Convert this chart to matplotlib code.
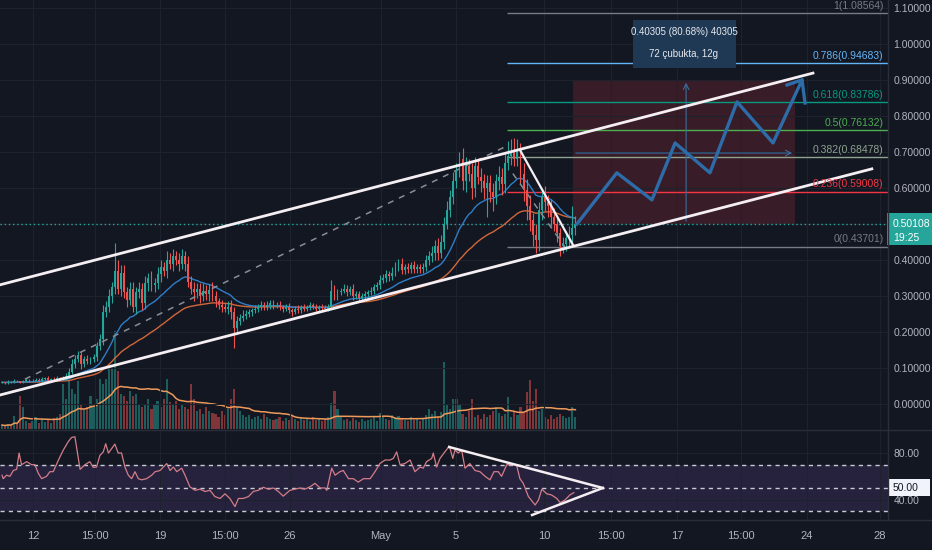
import numpy as np
import pandas as pd
import matplotlib
matplotlib.use("Agg")
import matplotlib.pyplot as plt
from matplotlib.patches import Rectangle
from matplotlib.lines import Line2D
from matplotlib.transforms import blended_transform_factory

plt.rcParams["font.family"] = ["Liberation Sans", "DejaVu Sans"]

BG = "#131722"
GRID = "#1e222d"
SEP = "#2a2e39"
TXT = "#b2b5be"
UP = "#26a69a"
DOWN = "#ef5350"

# ---- 4h candles (close) ----
close = [
    0.060, 0.058, 0.062, 0.060, 0.065, 0.063, 0.061, 0.064, 0.066, 0.063,
    0.065, 0.068, 0.064, 0.070, 0.072, 0.068, 0.070, 0.069, 0.072, 0.070,
    0.072, 0.078, 0.090, 0.110, 0.125, 0.135, 0.110, 0.125, 0.120, 0.125,
    0.130, 0.160, 0.180, 0.255, 0.270, 0.300, 0.325, 0.370, 0.320, 0.365,
    0.310, 0.290, 0.320, 0.270, 0.310, 0.320, 0.280, 0.335, 0.350, 0.330,
    0.335, 0.360, 0.380, 0.370, 0.400, 0.390, 0.410, 0.400, 0.390, 0.410,
    0.390, 0.340, 0.320, 0.310, 0.320, 0.300, 0.315, 0.305, 0.318, 0.300,
    0.285, 0.275, 0.270, 0.265, 0.270, 0.255, 0.210, 0.230, 0.240, 0.245,
    0.250, 0.255, 0.260, 0.265, 0.270, 0.275, 0.270, 0.275, 0.280, 0.272,
    0.275, 0.270, 0.265, 0.270, 0.260, 0.255, 0.265, 0.260, 0.270, 0.265,
    0.270, 0.275, 0.270, 0.265, 0.270, 0.268, 0.265, 0.270, 0.315, 0.300,
    0.310, 0.315, 0.320, 0.310, 0.320, 0.300, 0.305, 0.295, 0.300, 0.305,
    0.310, 0.315, 0.325, 0.330, 0.345, 0.350, 0.360, 0.355, 0.365, 0.380,
    0.390, 0.372, 0.380, 0.375, 0.385, 0.375, 0.380, 0.375, 0.380, 0.400,
    0.410, 0.420, 0.440, 0.420, 0.450, 0.500, 0.540, 0.575, 0.620, 0.650,
    0.680, 0.620, 0.660, 0.640, 0.600, 0.660, 0.630, 0.620, 0.600, 0.615,
    0.590, 0.575, 0.620, 0.630, 0.610, 0.670, 0.690, 0.700, 0.680, 0.705,
    0.640, 0.595, 0.550, 0.510, 0.470, 0.455, 0.540, 0.575, 0.560, 0.550,
    0.520, 0.500, 0.475, 0.440, 0.445, 0.460, 0.470, 0.490, 0.501,
]
wick_up = [
    0.003, 0.002, 0.004, 0.003, 0.004, 0.003, 0.002, 0.004, 0.005, 0.003,
    0.004, 0.005, 0.003, 0.006, 0.004, 0.005, 0.003, 0.004, 0.006, 0.004,
    0.006, 0.008, 0.010, 0.015, 0.010, 0.012, 0.010, 0.008, 0.010, 0.006,
    0.010, 0.012, 0.015, 0.020, 0.015, 0.020, 0.015, 0.077, 0.030, 0.020,
    0.020, 0.015, 0.020, 0.020, 0.015, 0.020, 0.015, 0.020, 0.015, 0.020,
    0.015, 0.020, 0.020, 0.015, 0.025, 0.020, 0.020, 0.015, 0.020, 0.020,
    0.015, 0.020, 0.015, 0.020, 0.015, 0.015, 0.020, 0.015, 0.015, 0.020,
    0.015, 0.010, 0.015, 0.010, 0.015, 0.020, 0.015, 0.015, 0.010, 0.015,
    0.010, 0.010, 0.008, 0.010, 0.008, 0.010, 0.008, 0.010, 0.008, 0.010,
    0.008, 0.010, 0.006, 0.008, 0.010, 0.006, 0.008, 0.010, 0.006, 0.008,
    0.006, 0.008, 0.006, 0.008, 0.006, 0.008, 0.006, 0.008, 0.030, 0.015,
    0.010, 0.008, 0.012, 0.010, 0.008, 0.012, 0.008, 0.010, 0.008, 0.010,
    0.008, 0.010, 0.008, 0.010, 0.012, 0.010, 0.012, 0.010, 0.015, 0.015,
    0.012, 0.015, 0.010, 0.012, 0.010, 0.012, 0.010, 0.010, 0.012, 0.015,
    0.015, 0.020, 0.015, 0.020, 0.020, 0.020, 0.025, 0.020, 0.025, 0.020,
    0.020, 0.030, 0.025, 0.020, 0.030, 0.025, 0.020, 0.025, 0.020, 0.020,
    0.020, 0.025, 0.020, 0.030, 0.025, 0.030, 0.040, 0.035, 0.040, 0.030,
    0.020, 0.030, 0.030, 0.030, 0.020, 0.030, 0.020, 0.025, 0.030, 0.020,
    0.020, 0.025, 0.020, 0.015, 0.020, 0.020, 0.025, 0.060, 0.020,
]
wick_dn = [
    0.002, 0.003, 0.002, 0.003, 0.002, 0.003, 0.002, 0.002, 0.003, 0.002,
    0.003, 0.002, 0.004, 0.003, 0.002, 0.004, 0.003, 0.002, 0.003, 0.003,
    0.004, 0.005, 0.006, 0.008, 0.010, 0.008, 0.012, 0.008, 0.010, 0.008,
    0.008, 0.010, 0.010, 0.015, 0.012, 0.015, 0.020, 0.020, 0.015, 0.020,
    0.015, 0.020, 0.015, 0.015, 0.020, 0.015, 0.020, 0.015, 0.020, 0.015,
    0.020, 0.015, 0.020, 0.015, 0.020, 0.015, 0.020, 0.015, 0.020, 0.015,
    0.020, 0.015, 0.015, 0.025, 0.015, 0.020, 0.015, 0.015, 0.020, 0.015,
    0.015, 0.010, 0.015, 0.010, 0.015, 0.020, 0.054, 0.015, 0.010, 0.010,
    0.010, 0.008, 0.010, 0.008, 0.010, 0.008, 0.010, 0.008, 0.010, 0.008,
    0.006, 0.008, 0.010, 0.006, 0.008, 0.010, 0.006, 0.008, 0.006, 0.008,
    0.006, 0.008, 0.006, 0.008, 0.006, 0.008, 0.006, 0.008, 0.005, 0.010,
    0.010, 0.008, 0.008, 0.010, 0.008, 0.010, 0.008, 0.010, 0.008, 0.008,
    0.008, 0.008, 0.010, 0.008, 0.010, 0.008, 0.010, 0.012, 0.010, 0.010,
    0.010, 0.012, 0.010, 0.012, 0.010, 0.010, 0.012, 0.010, 0.010, 0.010,
    0.015, 0.015, 0.020, 0.020, 0.015, 0.020, 0.015, 0.020, 0.020, 0.020,
    0.020, 0.025, 0.030, 0.020, 0.030, 0.025, 0.020, 0.030, 0.030, 0.080,
    0.030, 0.040, 0.020, 0.025, 0.030, 0.025, 0.020, 0.025, 0.020, 0.020,
    0.030, 0.030, 0.040, 0.030, 0.030, 0.035, 0.030, 0.030, 0.025, 0.030,
    0.025, 0.020, 0.025, 0.030, 0.020, 0.020, 0.020, 0.020, 0.020,
]
volume = [
    4, 3, 5, 4, 13, 6, 33, 22, 8, 6,
    8, 12, 6, 10, 7, 9, 6, 11, 12, 15,
    45, 30, 48, 40, 35, 48, 25, 20, 22, 33,
    22, 30, 50, 45, 50, 60, 60, 98, 58, 35,
    33, 28, 38, 33, 35, 25, 22, 24, 30, 20,
    25, 28, 22, 30, 50, 27, 25, 28, 20, 24,
    22, 20, 45, 30, 18, 20, 15, 22, 18, 16,
    15, 12, 18, 14, 20, 30, 40, 22, 18, 14,
    12, 14, 10, 12, 13, 10, 15, 12, 10, 9,
    10, 12, 8, 11, 9, 13, 10, 8, 11, 9,
    10, 8, 12, 9, 11, 8, 10, 12, 26, 38,
    20, 12, 9, 10, 8, 11, 9, 7, 10, 8,
    9, 10, 12, 8, 16, 12, 10, 9, 14, 11,
    13, 10, 9, 8, 12, 9, 10, 8, 11, 14,
    20, 15, 18, 12, 17, 67, 24, 20, 30, 30,
    25, 15, 12, 18, 30, 12, 14, 10, 15, 12,
    14, 18, 22, 16, 13, 15, 32, 12, 18, 14,
    22, 16, 37, 49, 28, 40, 18, 20, 12, 10,
    14, 10, 12, 15, 13, 11, 12, 22, 12,
]

# RSI line, sampled along the bar axis
rsi_x = [
    0, 0.4, 1.5, 2.6, 3.7, 4.8, 5.6, 6.4, 8.1, 9.7,
    10.8, 11.9, 13.0, 14.6, 15.7, 16.8, 18.5, 20.1, 21.7, 22.8,
    23.9, 25.6, 27.2, 28.8, 29.9, 31.0, 32.1, 33.2, 34.0, 34.9,
    36.0, 37.0, 38.1, 39.2, 40.3, 41.4, 42.5, 43.6, 44.7, 45.8,
    47.4, 49.1, 50.2, 51.8, 54.0, 55.1, 56.2, 57.3, 58.9, 60.0,
    61.6, 63.3, 64.9, 66.6, 68.2, 69.8, 71.5, 73.1, 74.7, 76.4,
    77.5, 79.1, 80.8, 82.4, 84.0, 85.7, 87.3, 89.0, 90.6, 92.2,
    94.4, 96.1, 97.7, 99.3, 101.0, 102.6, 104.3, 105.9, 106.5, 108.1,
    109.2, 110.8, 111.9, 113.6, 115.2, 116.8, 118.5, 120.7, 122.3, 123.9,
    125.6, 127.2, 128.3, 129.4, 130.5, 132.1, 133.8, 135.4, 137.1, 138.1,
    139.2, 140.9, 141.4, 142.5, 143.6, 145.2, 146.7, 147.8, 148.5, 149.6,
    150.7, 151.8, 153.4, 155.1, 156.7, 158.4, 160.0, 161.3, 162.7, 163.8,
    165.5, 167.1, 168.7, 169.8, 170.9, 172.6, 174.8, 175.9, 177.0, 178.6,
    180.2, 181.9, 183.0, 184.6, 186.2, 187.5,
]
rsi_val = [
    61, 58, 61, 60, 65, 66, 80, 70, 72.6, 70,
    70, 62.6, 58, 60, 64, 64, 74, 82.6, 89.7, 93.4,
    94, 66, 70, 72.6, 67.7, 68, 78, 81, 88, 80,
    84, 87.7, 80, 80, 68, 61, 58, 64, 58, 57,
    58, 61, 64, 65, 71, 65, 68, 64, 67, 61,
    51, 48, 49, 47, 48, 42.6, 41, 45, 41, 34,
    41, 41, 42.6, 47, 48, 50.6, 49, 50, 47, 43,
    48, 49, 50, 49, 51, 54, 50, 50, 48, 67,
    61, 64, 65, 58, 58, 55, 58, 58, 64, 71,
    74, 74, 75.4, 81, 70, 71, 74, 64, 68, 67,
    72.6, 75.4, 80, 68, 75.4, 81, 86, 75.4, 82.6, 80,
    82.6, 67, 71, 65, 64, 60, 57, 64, 64, 60,
    70, 70, 70, 58, 54, 42.6, 35.4, 39.7, 49, 45,
    44, 41, 37.4, 39.7, 44, 46,
]

# fibonacci retracement levels
fib_ratio = ["0", "0.236", "0.382", "0.5", "0.618", "0.786", "1"]
fib_price = [0.43701, 0.59008, 0.68478, 0.76132, 0.83786, 0.94683, 1.08564]
fib_color = ["#787b86", "#f23645", "#8fa38f", "#4caf50", "#089981", "#64b5f6", "#787b86"]

# projected zigzag path
zig_x = [188.5, 201.6, 213.1, 220.7, 232.1, 241.0, 252.8, 262.3, 263.3]
zig_y = [0.500, 0.642, 0.567, 0.725, 0.642, 0.839, 0.725, 0.900, 0.836]

price_ticks = [0.0, 0.1, 0.2, 0.3, 0.4, 0.5, 0.6, 0.7, 0.8, 0.9, 1.0, 1.1]
tick_pos = [10.2, 30.5, 51.8, 73.1, 94.4, 124.3, 148.9, 177.7, 199.7, 221.3, 242.3, 263.9, 287.9]
tick_lab = ["12", "15:00", "19", "15:00", "26", "May", "5", "10", "15:00", "17", "15:00", "24", "28"]

last_price = 0.50108

# ---- figure / panes ----
fig = plt.figure(figsize=(9.32, 5.5), dpi=100, facecolor=BG)
ax_w = 888 / 932
ax = fig.add_axes([0, 1 - 429 / 550, ax_w, 429 / 550])
axv = ax.twinx()
ax_r = fig.add_axes([0, 1 - 520 / 550, ax_w, 90 / 550], sharex=ax)

ax.set_zorder(axv.get_zorder() + 1)
ax.patch.set_visible(False)
axv.patch.set_visible(False)
ax_r.set_facecolor(BG)

for a in (ax, axv, ax_r):
    for s in a.spines.values():
        s.set_visible(False)

ax.set_xlim(-0.66, 290.5)
ax.set_ylim(-0.0694, 1.122)

idx = np.arange(len(close))
c = np.array(close)
o = np.r_[c[0], c[:-1]]
hi = np.maximum(o, c) + np.array(wick_up)
lo = np.minimum(o, c) - np.array(wick_dn)
col = np.where(c >= o, UP, DOWN)

# volume (overlay, own scale)
axv.bar(idx, volume, width=0.7, color=col, alpha=0.5, linewidth=0)
vol_ma = pd.Series(volume, dtype=float).rolling(20, min_periods=1).mean()
axv.plot(idx, vol_ma, color="#ee9a5a", lw=1.1)
axv.set_ylim(0, 430)
axv.set_yticks([])

# grid
ax.set_yticks(price_ticks)
ax.set_yticklabels([f"{v:.5f}" for v in price_ticks])
ax.yaxis.tick_right()
ax.grid(True, color=GRID, lw=0.8, zorder=0)
ax.tick_params(axis="both", length=0, colors=TXT, labelsize=7.5, pad=4, labelbottom=False)

# fib levels
fib_x0 = 165.6
for r, p, fc in zip(fib_ratio, fib_price, fib_color):
    ax.hlines(p, fib_x0, 290.5, color=fc, lw=1, zorder=2)
    ax.text(289.0, p + 0.006, f"{r}({p:.5f})", color=fc, fontsize=7.5,
            ha="right", va="bottom", zorder=6)

# target zone + measuring arrows
ax.add_patch(Rectangle((187.2, 0.50), 72.8, 0.40, facecolor="#f23645", alpha=0.17, lw=0, zorder=1))
ax.annotate("", xy=(224.3, 0.90), xytext=(224.3, 0.50),
            arrowprops=dict(arrowstyle="->", color="#3d6e9e", lw=0.8), zorder=2)
ax.annotate("", xy=(260.0, 0.697), xytext=(187.2, 0.697),
            arrowprops=dict(arrowstyle="->", color="#3d6e9e", lw=0.8), zorder=2)

# moving averages
ema_fast = pd.Series(c).ewm(span=20, adjust=False).mean()
ema_slow = pd.Series(c).ewm(span=50, adjust=False).mean()
ax.plot(idx, ema_slow, color="#d1673a", lw=1, zorder=2)
ax.plot(idx, ema_fast, color="#2f7ec6", lw=1, zorder=2)

# candles
ax.vlines(idx, lo, hi, colors=col, lw=0.8, zorder=3)
ax.bar(idx, np.maximum(np.abs(c - o), 0.0015), bottom=np.minimum(o, c), width=0.62,
       color=col, linewidth=0, zorder=4)

# last price line
ax.axhline(last_price, color=UP, lw=1, ls=(0, (1, 2)), zorder=2)

# drawings
ax.plot([7.5, 165.6], [0.069, 0.717], color="#8a8d96", lw=1.1, ls=(0, (4, 4)), zorder=3)
ax.plot([167.5, 184.6], [0.640, 0.436], color="#8a8d96", lw=1.1, ls=(0, (4, 4)), zorder=3)
ax.plot([-0.66, 265.9], [0.331, 0.919], color="#f5eef2", lw=2.0, zorder=5)
ax.plot([-0.66, 285.2], [0.025, 0.653], color="#f5eef2", lw=2.0, zorder=5)
ax.plot([169.8, 187.2], [0.706, 0.442], color="#f5eef2", lw=1.6, zorder=5)
ax.plot(zig_x, zig_y, color="#2d6ca8", lw=2.4, zorder=5)
ax.plot([257.4, 262.3], [0.886, 0.900], color="#2d6ca8", lw=2.4, zorder=5)

# measurement tooltip
ax.add_patch(Rectangle((206.9, 0.933), 33.8, 0.134, facecolor="#1f3954", lw=0, zorder=6))
ax.text(223.6, 1.033, "0.40305 (80.68%) 40305", color="#e6e8ee", fontsize=7,
        ha="center", va="center", zorder=7)
ax.text(223.6, 0.972, "72 çubukta, 12g", color="#e6e8ee", fontsize=7,
        ha="center", va="center", zorder=7)

# current price label on the axis
tr = blended_transform_factory(fig.transFigure, ax.transData)
ax.add_patch(Rectangle((887 / 932, 0.4417), 45 / 932, 0.0889, facecolor=UP, lw=0,
                       transform=tr, clip_on=False, zorder=8))
ax.text(893 / 932, last_price, f"{last_price:.5f}", color="white", fontsize=7.5,
        transform=tr, ha="left", va="center", zorder=9)
ax.text(893 / 932, 0.462, "19:25", color="white", fontsize=7.5,
        transform=tr, ha="left", va="center", zorder=9)

# ---- RSI pane ----
ax_r.set_ylim(22.5, 99.8)
ax_r.axhspan(30, 70, color="#7e57c2", alpha=0.18, lw=0)
for lvl in (70, 50, 30):
    ax_r.axhline(lvl, color="#c9cbd4", lw=1, ls=(0, (3, 3)))
ax_r.plot(rsi_x, rsi_val, color="#d47d89", lw=0.9)
ax_r.plot([146.6, 197.0], [85.2, 50.0], color="#f5eef2", lw=1.8)
ax_r.plot([173.8, 197.0], [26.8, 50.0], color="#f5eef2", lw=1.8)

ax_r.set_yticks([40, 80])
ax_r.set_yticklabels(["40.00", "80.00"])
ax_r.yaxis.tick_right()
ax_r.set_xticks(tick_pos)
ax_r.set_xticklabels(tick_lab)
ax_r.grid(True, color=GRID, lw=0.8)
ax_r.tick_params(axis="both", length=0, colors=TXT, labelsize=7.5)
ax_r.tick_params(axis="y", pad=4)
ax_r.tick_params(axis="x", pad=8, labelsize=8)

trr = blended_transform_factory(fig.transFigure, ax_r.transData)
ax_r.add_patch(Rectangle((888 / 932, 43.1), 42 / 932, 14.6, facecolor="#f0f3fa", lw=0,
                         transform=trr, clip_on=False, zorder=8))
ax_r.text(893 / 932, 50, "50.00", color=BG, fontsize=7.5, transform=trr,
          ha="left", va="center", zorder=9)

# pane separators
for y in (1 - 429.5 / 550, 1 - 520 / 550):
    fig.add_artist(Line2D([0, 1], [y, y], transform=fig.transFigure, color=SEP, lw=1))
fig.add_artist(Line2D([ax_w, ax_w], [1 - 520 / 550, 1], transform=fig.transFigure, color=SEP, lw=1))

fig.savefig("out.png", dpi=100, facecolor=BG)
